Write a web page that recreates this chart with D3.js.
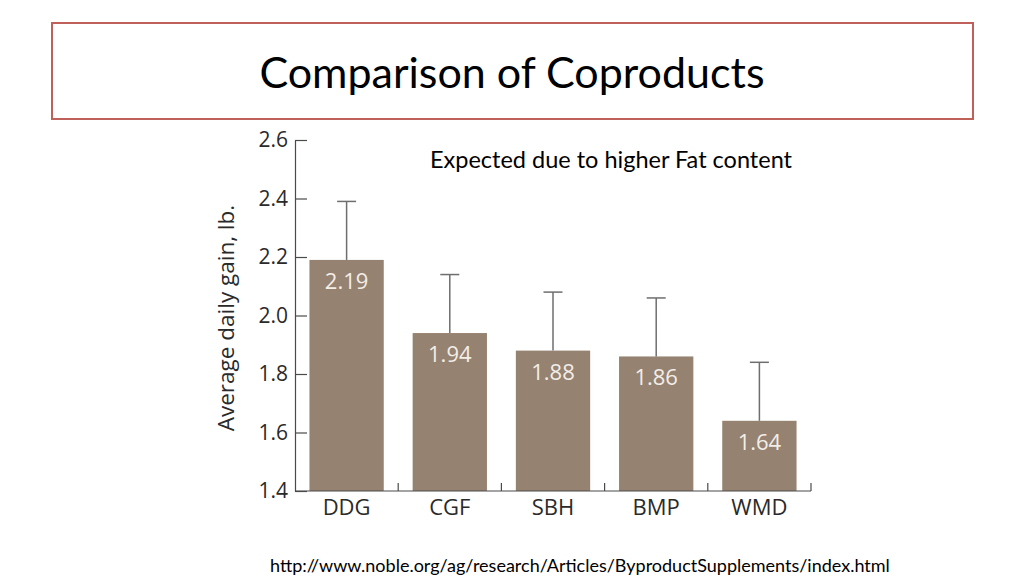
<!DOCTYPE html>
<html><head><meta charset="utf-8">
<script src="https://cdn.jsdelivr.net/npm/d3@7"></script>
<style>body{margin:0;background:#fff}svg{display:block}</style>
</head><body>
<svg id="c" width="1024" height="576"></svg>
<script>
const categories = ["DDG","CGF","SBH","BMP","WMD"];
const values = [2.19,1.94,1.88,1.86,1.64];
const errorTops = [2.39,2.14,2.08,2.06,1.84];
const yTicks = [1.4,1.6,1.8,2.0,2.2,2.4,2.6];

const svg = d3.select("#c");
// title box
svg.append("rect").attr("x",52).attr("y",23).attr("width",921).attr("height",96)
  .attr("fill","none").attr("stroke","#c0605a").attr("stroke-width",2);
svg.append("text").attr("x",512).attr("y",88).attr("text-anchor","middle")
  .attr("font-family","Lato, 'Open Sans', sans-serif").attr("font-size",43).attr("fill","#000")
  .text("Comparison of Coproducts");

const x0=295, x1=811, yTop=140, yBot=491;
const x = d3.scaleBand().domain(categories).range([x0,x1]).paddingInner(0.28).paddingOuter(0.14);
const y = d3.scaleLinear().domain([1.4,2.6]).range([yBot,yTop]);
const tickFont = "'Open Sans', 'Noto Sans', sans-serif";

// y axis
const ya = svg.append("g").attr("transform",`translate(${x0},0)`)
  .call(d3.axisRight(y).tickValues(yTicks).tickFormat(d3.format(".1f")).tickSize(12).tickSizeOuter(0));
ya.select(".domain").attr("stroke","#4a4a4a").attr("stroke-width",1.2);
ya.selectAll(".tick line").attr("stroke","#4a4a4a").attr("stroke-width",1.2);
ya.selectAll(".tick text").attr("x",-7).attr("text-anchor","end").attr("font-family",tickFont)
  .attr("font-size",21).attr("fill","#2a2a2a");

// bars
const g = svg.append("g");
g.selectAll("rect.bar").data(categories).join("rect").attr("class","bar")
  .attr("x",d=>x(d)).attr("width",x.bandwidth())
  .attr("y",(d,i)=>y(values[i])).attr("height",(d,i)=>y(1.4)-y(values[i]))
  .attr("fill","#968270");
// error bars
g.selectAll("line.err").data(categories).join("line").attr("class","err")
  .attr("x1",d=>x(d)+x.bandwidth()/2).attr("x2",d=>x(d)+x.bandwidth()/2)
  .attr("y1",(d,i)=>y(values[i])).attr("y2",(d,i)=>y(errorTops[i]))
  .attr("stroke","#6e6e6e").attr("stroke-width",1.5);
g.selectAll("line.cap").data(categories).join("line").attr("class","cap")
  .attr("x1",d=>x(d)+x.bandwidth()/2-9.5).attr("x2",d=>x(d)+x.bandwidth()/2+9.5)
  .attr("y1",(d,i)=>y(errorTops[i])).attr("y2",(d,i)=>y(errorTops[i]))
  .attr("stroke","#6e6e6e").attr("stroke-width",1.5);
// value labels
g.selectAll("text.val").data(categories).join("text").attr("class","val")
  .attr("x",d=>x(d)+x.bandwidth()/2).attr("y",(d,i)=>y(values[i])+29)
  .attr("text-anchor","middle").attr("font-family",tickFont).attr("font-size",22)
  .attr("fill","#f3eee8").text((d,i)=>d3.format(".2f")(values[i]));

// x axis
const xa = svg.append("g").attr("transform",`translate(0,${yBot})`);
xa.append("line").attr("x1",x0).attr("x2",x1).attr("stroke","#4a4a4a").attr("stroke-width",1.2);
const bounds = categories.map((d,i)=>x(d)+x.bandwidth()+ (x.step()-x.bandwidth())/2);
xa.selectAll("line.t").data(bounds).join("line").attr("class","t")
  .attr("x1",d=>d).attr("x2",d=>d).attr("y1",0).attr("y2",-8).attr("stroke","#4a4a4a").attr("stroke-width",1.2);
xa.selectAll("text").data(categories).join("text")
  .attr("x",d=>x(d)+x.bandwidth()/2).attr("y",24).attr("text-anchor","middle")
  .attr("font-family",tickFont).attr("font-size",22).attr("fill","#2a2a2a").text(d=>d);

// y label
svg.append("text").attr("transform","translate(234,318) rotate(-90)").attr("text-anchor","middle")
  .attr("font-family",tickFont).attr("font-size",22.5).attr("fill","#2a2a2a").text("Average daily gain, lb.");

// annotation
svg.append("text").attr("x",430).attr("y",168).attr("font-family","Lato, 'Open Sans', sans-serif")
  .attr("font-size",23.5).attr("fill","#000").text("Expected due to higher Fat content");
// footer
svg.append("text").attr("x",270).attr("y",572).attr("font-family","Lato, 'Open Sans', sans-serif")
  .attr("font-size",18).attr("fill","#000").text("http://www.noble.org/ag/research/Articles/ByproductSupplements/index.html");
</script>
</body></html>
